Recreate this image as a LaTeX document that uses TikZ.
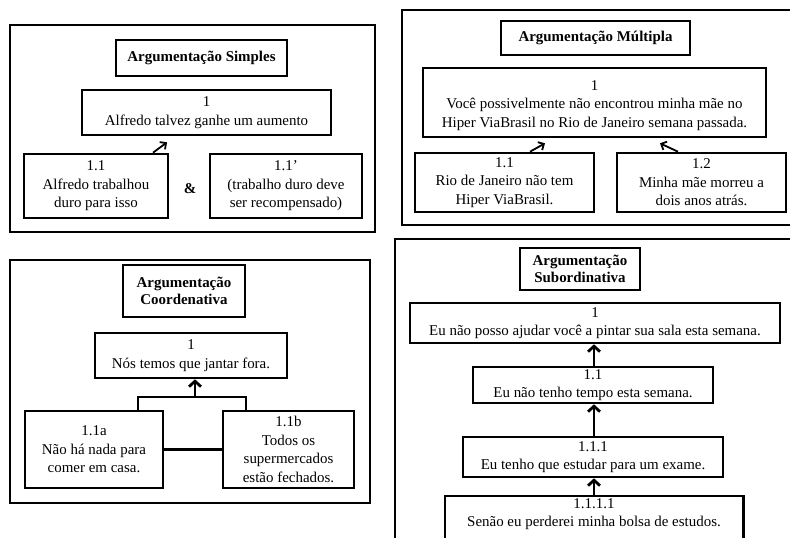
\documentclass[tikz,border=0pt]{standalone}
\usepackage{fontspec}
\setmainfont{Liberation Serif}
\usetikzlibrary{arrows.meta,fit,calc}
\begin{document}
\begin{tikzpicture}[x=1bp,y=-1bp,
  frame/.style={line width=1.8bp},
  box/.style={draw, line width=2.6bp, inner sep=0pt, align=center, font=\fontsize{15}{18.5}\selectfont},
  nobox/.style={inner sep=0pt, align=center, font=\fontsize{15}{18.5}\selectfont},
  titlebox/.style={box},
  titletext/.style={inner sep=0pt, align=center, font=\bfseries\fontsize{15}{17}\selectfont},
  thinarr/.style={line width=1.8bp, -{Straight Barb[length=4.5bp,width=9bp,line width=1.8bp]}},
  thickarr/.style={line width=2.8bp, -{Straight Barb[length=5.5bp,width=12bp,line width=2.8bp]}},
  link/.style={line width=2.6bp}
]
\useasboundingbox (0,0) rectangle (790,538);
\clip (0,0) rectangle (790,538);
\fill[white] (0,0) rectangle (790,538);

% ---------- Panel 1: Simples ----------
\draw[frame] (10,25) rectangle (375,232);
\node[titlebox, fit={(116,40) (287,76)}] (st) {};
\node[titletext] at (st.center) {Argumentação Simples};
\node[box, fit={(82,90) (331,135)}] (s1) {};
\node[nobox] at (s1.center) {1\\Alfredo talvez ganhe um aumento};
\node[box, fit={(24,154) (168,218)}] (s11) {};
\node[nobox] at (s11.center) {1.1\\Alfredo trabalhou\\duro para isso};
\node[box, fit={(210,154) (362,218)}] (s11p) {};
\node[nobox] at (s11p.center) {1.1’\\(trabalho duro deve\\ser recompensado)};
\node[font=\bfseries\fontsize{15}{17}\selectfont] (amp) at (190,189) {\&};
\draw[thinarr] ([xshift=57bp]s11.north) -- ([xshift=-39.5bp,yshift=-6bp]s1.south);

% ---------- Panel 2: Multipla ----------
\draw[frame] (792,10) -- (402,10) -- (402,225) -- (792,225);
\node[titlebox, fit={(501,21) (690,55)}] (mt) {};
\node[titletext] at (mt.center) {Argumentação Múltipla};
\node[box, fit={(423,68) (766,137)}] (m1) {};
\node[nobox] at ([yshift=-3bp]m1.center) {1\\Você possivelmente não encontrou minha mãe no\\Hiper ViaBrasil no Rio de Janeiro semana passada.};
\node[box, fit={(415,153) (594,212)}] (m11) {};
\node[nobox] at (m11.center) {1.1\\Rio de Janeiro não tem\\Hiper ViaBrasil.};
\node[box, fit={(617,153) (786,212)}] (m12) {};
\node[nobox] at (m12.center) {1.2\\Minha mãe morreu a\\dois anos atrás.};
\draw[thinarr] ([xshift=25.5bp]m11.north) -- ([xshift=-49.5bp,yshift=-5bp]m1.south);
\draw[thinarr] ([xshift=-23.5bp]m12.north) -- ([xshift=65.5bp,yshift=-5bp]m1.south);

% ---------- Panel 3: Coordenativa ----------
\draw[frame] (10,260) rectangle (370,503);
\node[titlebox, fit={(123,265) (245,317)}] (ct) {};
\node[titletext] at (ct.center) {Argumentação\\Coordenativa};
\node[box, fit={(95,333) (287,378)}] (c1) {};
\node[nobox] at (c1.center) {1\\Nós temos que jantar fora.};
\node[box, fit={(25,411) (163,488)}] (c11a) {};
\node[nobox] at (c11a.center) {1.1a\\Não há nada para\\comer em casa.};
\node[box, fit={(223,411) (354,488)}] (c11b) {};
\node[nobox] at (c11b.center) {1.1b\\Todos os\\supermercados\\estão fechados.};
\coordinate (cL) at (138,397);
\coordinate (cR) at (246,397);
\coordinate (cM) at (195,397);
\draw[link] (c11a.north -| cL) -- (cL) -- (cR) -- (c11b.north -| cR);
\draw[thickarr] (cM) -- (c1.south -| cM);
\draw[link] (c11a.east) -- (c11b.west);

% ---------- Panel 4: Subordinativa ----------
\draw[frame] (792,239) -- (395,239) -- (395,542);
\node[titlebox, fit={(520,248) (640,290)}] (bt) {};
\node[titletext] at (bt.center) {Argumentação\\Subordinativa};
\node[box, fit={(410,303) (780,343)}] (b1) {};
\node[nobox] at (b1.center) {1\\Eu não posso ajudar você a pintar sua sala esta semana.};
\node[box, fit={(473,367) (713,403)}] (b11) {};
\node[nobox] at (b11.center) {1.1\\Eu não tenho tempo esta semana.};
\node[box, fit={(463,437) (723,477)}] (b111) {};
\node[nobox] at (b111.center) {1.1.1\\Eu tenho que estudar para um exame.};
\node[nobox, fit={(445,496) (743,532)}] (b1111) {};
\node[nobox] at (b1111.center) {1.1.1.1\\Senão eu perderei minha bolsa de estudos.};
\coordinate (bottom) at (0,545);
\coordinate (bx) at (594,0);
\draw[link] (b1111.west |- bottom) -- (b1111.north west) -- (b1111.north east) -- (b1111.east |- bottom);
\draw[thickarr] (b11.north -| bx) -- (b1.south -| bx);
\draw[thickarr] (b111.north -| bx) -- (b11.south -| bx);
\draw[thickarr] (b1111.north -| bx) -- (b111.south -| bx);
\end{tikzpicture}
\end{document}
